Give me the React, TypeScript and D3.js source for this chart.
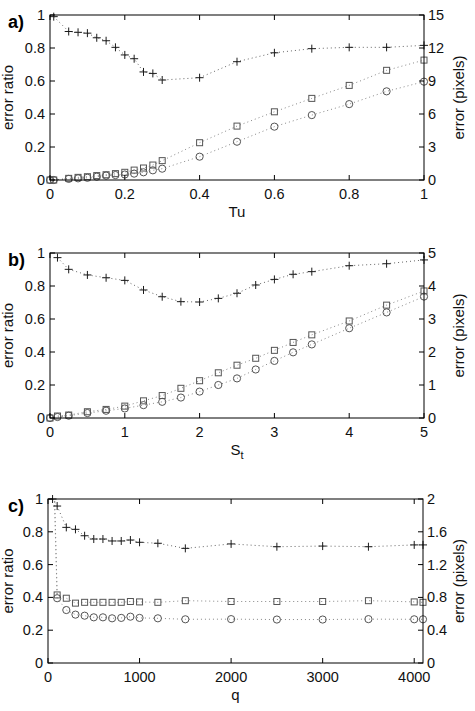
import React from 'react';
import * as d3 from 'd3';

// ---------- Panel a ----------
const aX = [0, 0.01, 0.05, 0.075, 0.1, 0.125, 0.15, 0.175, 0.2, 0.225, 0.25, 0.275, 0.3, 0.4, 0.5, 0.6, 0.7, 0.8, 0.9, 1.0];
const aRatio = [null, 0.99, 0.9, 0.895, 0.89, 0.862, 0.844, 0.804, 0.758, 0.735, 0.655, 0.646, 0.606, 0.62, 0.717, 0.771, 0.796, 0.804, 0.804, 0.816];
const aSquare = [0, 0, 0.15, 0.24, 0.3, 0.4, 0.48, 0.58, 0.7, 0.9, 1.09, 1.36, 1.76, 3.39, 4.9, 6.2, 7.42, 8.6, 9.97, 10.9];
const aCircle = [0, 0, 0.1, 0.15, 0.2, 0.3, 0.4, 0.45, 0.5, 0.58, 0.7, 0.88, 1.03, 2.12, 3.48, 4.85, 5.9, 6.9, 8.06, 8.94];
const aXTicks = [0, 0.2, 0.4, 0.6, 0.8, 1];
const aRightTicks = [0, 3, 6, 9, 12, 15];

// ---------- Panel b ----------
const bX = [0, 0.1, 0.25, 0.5, 0.75, 1, 1.25, 1.5, 1.75, 2, 2.25, 2.5, 2.75, 3, 3.25, 3.5, 4, 4.5, 5];
const bRatio = [null, 0.972, 0.901, 0.867, 0.85, 0.834, 0.776, 0.735, 0.705, 0.703, 0.725, 0.756, 0.806, 0.84, 0.871, 0.887, 0.923, 0.935, 0.958];
const bSquare = [0, 0.06, 0.09, 0.19, 0.26, 0.36, 0.52, 0.68, 0.9, 1.13, 1.37, 1.6, 1.81, 2.05, 2.29, 2.52, 2.94, 3.42, 3.85];
const bCircle = [0, 0.03, 0.07, 0.15, 0.22, 0.29, 0.39, 0.49, 0.62, 0.8, 1.0, 1.2, 1.47, 1.73, 1.99, 2.23, 2.72, 3.2, 3.68];
const bXTicks = [0, 1, 2, 3, 4, 5];
const bRightTicks = [0, 1, 2, 3, 4, 5];

// ---------- Panel c ----------
const cX = [50, 100, 200, 300, 400, 500, 600, 700, 800, 900, 1000, 1200, 1500, 2000, 2500, 3000, 3500, 4000, 4096];
const cRatio = [1.0, 0.957, 0.827, 0.815, 0.776, 0.756, 0.756, 0.744, 0.744, 0.75, 0.736, 0.73, 0.699, 0.726, 0.709, 0.713, 0.709, 0.72, 0.72];
const cSquare = [3.0, 0.83, 0.79, 0.73, 0.74, 0.74, 0.74, 0.74, 0.74, 0.75, 0.745, 0.74, 0.76, 0.75, 0.75, 0.75, 0.76, 0.745, 0.74];
const cCircle = [2.8, 0.79, 0.646, 0.59, 0.577, 0.557, 0.557, 0.545, 0.55, 0.565, 0.55, 0.545, 0.533, 0.535, 0.53, 0.53, 0.535, 0.533, 0.533];
const cXTicks = [0, 1000, 2000, 3000, 4000];
const cRightTicks = [0, 0.4, 0.8, 1.2, 1.6, 2];

const leftTicks = [0, 0.2, 0.4, 0.6, 0.8, 1];

const FONT = '"Liberation Sans", Arial, Helvetica, sans-serif';

type PanelProps = {
  id: string;
  label: string;
  xLabel: React.ReactNode;
  left: number; right: number; top: number; bottom: number;
  xDomain: [number, number];
  xTicks: number[];
  rightDomain: [number, number];
  rightTicks: number[];
  xs: number[];
  ratio: (number | null)[];
  square: number[];
  circle: number[];
};

const fmt = (v: number) => String(+v.toFixed(3));

function Panel(p: PanelProps) {
  const x = d3.scaleLinear().domain(p.xDomain).range([p.left, p.right]);
  const yL = d3.scaleLinear().domain([0, 1]).range([p.bottom, p.top]);
  const yR = d3.scaleLinear().domain(p.rightDomain).range([p.bottom, p.top]);
  const ratioPts = p.xs.map((v, i) => [v, p.ratio[i]] as [number, number | null]).filter(d => d[1] !== null) as [number, number][];
  const sqPts = p.xs.map((v, i) => [v, p.square[i]] as [number, number]);
  const ciPts = p.xs.map((v, i) => [v, p.circle[i]] as [number, number]);
  const lineL = d3.line<[number, number]>().x(d => x(d[0])).y(d => yL(d[1]));
  const lineR = d3.line<[number, number]>().x(d => x(d[0])).y(d => yR(d[1]));
  const tl = 5;
  const clipId = 'clip-' + p.id;
  const inside = (y: number) => y >= p.top - 4 && y <= p.bottom + 4;
  return (
    <g fontFamily={FONT}>
      <defs>
        <clipPath id={clipId}>
          <rect x={p.left} y={p.top} width={p.right - p.left} height={p.bottom - p.top} />
        </clipPath>
      </defs>
      {/* lines */}
      <g clipPath={`url(#${clipId})`} fill="none" strokeWidth={1} strokeDasharray="1 3">
        <path d={lineL(ratioPts) || ''} stroke="#666" />
        <path d={lineR(sqPts) || ''} stroke="#888" />
        <path d={lineR(ciPts) || ''} stroke="#888" />
      </g>
      {/* markers */}
      <g fill="none" strokeWidth={1}>
        {ratioPts.map((d, i) => (
          <path key={'p' + i} d={`M${x(d[0]) - 4},${yL(d[1])}H${x(d[0]) + 4}M${x(d[0])},${yL(d[1]) - 4}V${yL(d[1]) + 4}`} stroke="#1a1a1a" />
        ))}
        {sqPts.filter(d => inside(yR(d[1]))).map((d, i) => (
          <rect key={'s' + i} x={x(d[0]) - 3} y={yR(d[1]) - 3} width={6} height={6} stroke="#555" />
        ))}
        {ciPts.filter(d => inside(yR(d[1]))).map((d, i) => (
          <circle key={'c' + i} cx={x(d[0])} cy={yR(d[1])} r={3.6} stroke="#555" />
        ))}
      </g>
      {/* box */}
      <rect x={p.left} y={p.top} width={p.right - p.left} height={p.bottom - p.top} fill="none" stroke="#000" strokeWidth={1} />
      {/* x ticks */}
      {p.xTicks.map(t => (
        <g key={'xt' + t}>
          <line x1={x(t)} x2={x(t)} y1={p.bottom} y2={p.bottom - tl} stroke="#000" />
          <line x1={x(t)} x2={x(t)} y1={p.top} y2={p.top + tl} stroke="#000" />
          <text x={x(t)} y={p.bottom + 19} fontSize={14.5} textAnchor="middle" fill="#111">{fmt(t)}</text>
        </g>
      ))}
      {/* left ticks */}
      {leftTicks.map(t => (
        <g key={'lt' + t}>
          <line x1={p.left} x2={p.left + tl} y1={yL(t)} y2={yL(t)} stroke="#000" />
          <text x={p.left - 5} y={yL(t) + 5} fontSize={14.5} textAnchor="end" fill="#111">{fmt(t)}</text>
        </g>
      ))}
      {/* right ticks */}
      {p.rightTicks.map(t => (
        <g key={'rt' + t}>
          <line x1={p.right} x2={p.right - tl} y1={yR(t)} y2={yR(t)} stroke="#000" />
          <text x={p.right + 4} y={yR(t) + 5} fontSize={14.5} textAnchor="start" fill="#111">{fmt(t)}</text>
        </g>
      ))}
      {/* labels */}
      <text transform={`translate(13,${(p.top + p.bottom) / 2}) rotate(-90)`} fontSize={15} textAnchor="middle" fill="#111">error ratio</text>
      <text transform={`translate(464,${(p.top + p.bottom) / 2}) rotate(-90)`} fontSize={15} textAnchor="middle" fill="#111">error (pixels)</text>
      <text x={(p.left + p.right) / 2} y={p.bottom + 37} fontSize={15} textAnchor="middle" fill="#111">{p.xLabel}</text>
      <text x={8} y={p.top + 13} fontSize={18} fontWeight="bold" fill="#000">{p.label}</text>
    </g>
  );
}

export default function App() {
  return (
    <div style={{ position: 'absolute', left: 0, top: 0 }}>
      <svg width={475} height={711} style={{ display: 'block', background: '#fff' }}>
        <Panel id="a" label="a)" xLabel="Tu" left={50} right={424} top={15} bottom={180}
          xDomain={[0, 1]} xTicks={aXTicks} rightDomain={[0, 15]} rightTicks={aRightTicks}
          xs={aX} ratio={aRatio} square={aSquare} circle={aCircle} />
        <Panel id="b" label="b)" xLabel={<tspan>S<tspan fontSize={11} dy={4}>t</tspan></tspan>} left={50} right={424} top={253} bottom={418}
          xDomain={[0, 5]} xTicks={bXTicks} rightDomain={[0, 5]} rightTicks={bRightTicks}
          xs={bX} ratio={bRatio} square={bSquare} circle={bCircle} />
        <Panel id="c" label="c)" xLabel="q" left={48} right={423} top={499} bottom={663}
          xDomain={[0, 4096]} xTicks={cXTicks} rightDomain={[0, 2]} rightTicks={cRightTicks}
          xs={cX} ratio={cRatio} square={cSquare} circle={cCircle} />
      </svg>
    </div>
  );
}
